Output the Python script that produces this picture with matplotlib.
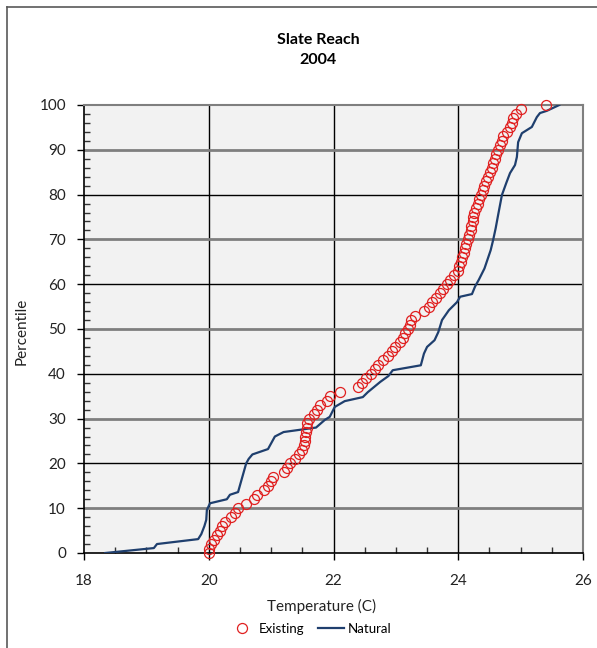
import matplotlib
matplotlib.use("Agg")
import matplotlib.pyplot as plt
from matplotlib.lines import Line2D
from matplotlib.ticker import MultipleLocator

plt.rcParams['font.family'] = ['Lato', 'DejaVu Sans']

# Existing conditions: temperature (C) at each percentile 0..100
existing_pct = list(range(0, 101))
existing_temp = [
    20.00, 20.01, 20.03, 20.08, 20.13, 20.18, 20.22, 20.26, 20.35, 20.42,
    20.47, 20.60, 20.73, 20.78, 20.88, 20.95, 20.99, 21.03, 21.21, 21.25,
    21.30, 21.38, 21.45, 21.50, 21.52, 21.54, 21.55, 21.56, 21.57, 21.58,
    21.60, 21.68, 21.74, 21.79, 21.90, 21.95, 22.10, 22.39, 22.45, 22.52,
    22.60, 22.66, 22.71, 22.80, 22.88, 22.93, 22.99, 23.06, 23.11, 23.15,
    23.19, 23.22, 23.25, 23.30, 23.45, 23.53, 23.58, 23.64, 23.70, 23.75,
    23.82, 23.87, 23.93, 23.99, 24.02, 24.04, 24.06, 24.09, 24.11, 24.13,
    24.15, 24.18, 24.20, 24.21, 24.23, 24.24, 24.25, 24.28, 24.32, 24.34,
    24.37, 24.39, 24.42, 24.45, 24.48, 24.51, 24.54, 24.56, 24.59, 24.61,
    24.64, 24.67, 24.70, 24.72, 24.78, 24.83, 24.86, 24.88, 24.93, 25.00,
    25.40,
]

# Natural conditions: cumulative distribution curve
natural_temp = [
    18.34, 19.12, 19.17, 19.83, 19.88, 19.93, 19.96, 19.97, 20.02, 20.29,
    20.34, 20.47, 20.60, 20.64, 20.70, 20.95, 21.06, 21.20, 21.46, 21.72,
    21.86, 21.94, 22.02, 22.18, 22.47, 22.55, 22.75, 22.88, 22.95, 23.40,
    23.45, 23.50, 23.62, 23.68, 23.74, 23.85, 23.98, 24.03, 24.22, 24.27,
    24.33, 24.42, 24.52, 24.56, 24.60, 24.64, 24.70, 24.77, 24.83, 24.91,
    24.94, 24.96, 25.02, 25.10, 25.18, 25.26, 25.31, 25.42, 25.62,
]
natural_pct = [
    0.0, 1.1, 2.0, 3.1, 4.2, 6.0, 7.4, 9.6, 11.1, 12.0,
    13.0, 13.6, 20.0, 21.0, 22.0, 23.2, 26.0, 27.0, 27.5, 28.0,
    29.7, 30.4, 32.6, 33.9, 34.8, 35.9, 38.2, 39.5, 40.8, 41.9,
    44.5, 46.0, 47.5, 49.3, 52.0, 54.2, 56.0, 57.2, 57.8, 59.5,
    61.0, 63.5, 67.6, 69.9, 72.5, 75.5, 79.9, 82.6, 84.8, 86.6,
    88.4, 91.7, 93.7, 94.4, 95.1, 97.3, 98.2, 98.7, 100.0,
]

x_ticks = [18, 20, 22, 24, 26]
y_ticks = [0, 10, 20, 30, 40, 50, 60, 70, 80, 90, 100]

W, H = 597, 648
fig = plt.figure(figsize=(W / 100, H / 100), dpi=100)
ax = fig.add_axes([84 / W, 1 - 553 / H, (583 - 84) / W, (553 - 105) / H])
ax.set_facecolor('#F2F2F2')

# Gridlines: vertical black, horizontal alternating black / grey
for x in x_ticks[1:-1]:
    ax.axvline(x, color='black', lw=1.0, zorder=1)
for y in y_ticks[1:-1]:
    if y % 20 == 0:
        ax.axhline(y, color='black', lw=1.0, zorder=1)
    else:
        ax.axhline(y, color='#7F7F7F', lw=2.0, zorder=1)

ax.plot(natural_temp, natural_pct, color='#1F3F6E', lw=1.6,
        label='Natural', zorder=3)
ax.plot(existing_temp, existing_pct, linestyle='none', marker='o',
        markersize=7.2, markerfacecolor='none', markeredgecolor='#E02020',
        markeredgewidth=0.9, label='Existing', zorder=4, clip_on=False)

ax.set_xlim(18, 26)
ax.set_ylim(0, 100)
ax.set_xticks(x_ticks)
ax.set_yticks(y_ticks)
ax.xaxis.set_minor_locator(MultipleLocator(0.5))
ax.yaxis.set_minor_locator(MultipleLocator(2))
ax.tick_params(which='major', direction='out', length=5, width=1,
               labelsize=11, color='black', labelcolor='#222222')
ax.tick_params(which='minor', direction='in', length=4, width=1,
               color='#333333')
ax.tick_params(axis='x', which='major', pad=10)
ax.tick_params(axis='y', which='major', pad=8)

for side in ('left', 'bottom'):
    ax.spines[side].set_color('black')
    ax.spines[side].set_linewidth(1.2)
for side in ('right', 'top'):
    ax.spines[side].set_color('#7F7F7F')
    ax.spines[side].set_linewidth(1.5)

# Axis titles
fig.text(322 / W, 1 - 606 / H, 'Temperature (C)', ha='center', va='center',
         fontsize=11, color='#222222')
fig.text(22 / W, 1 - 331 / H, 'Percentile', ha='center', va='center',
         rotation=90, fontsize=11, color='#222222')

# Chart title
fig.text(318 / W, 1 - 40 / H, 'Slate Reach', ha='center', va='center',
         fontsize=11.5, fontweight='bold')
fig.text(318 / W, 1 - 60 / H, '2004', ha='center', va='center',
         fontsize=11.5, fontweight='bold')

handles = [
    Line2D([], [], linestyle='none', marker='o', markersize=7.2,
           markerfacecolor='none', markeredgecolor='#E02020',
           markeredgewidth=0.9),
    Line2D([], [], color='#1F3F6E', lw=1.6),
]
fig.legend(handles, ['Existing', 'Natural'], loc='center',
           bbox_to_anchor=(310 / W, 1 - 629 / H), ncol=2, frameon=False,
           fontsize=9.5, handlelength=2.0, handletextpad=0.3,
           columnspacing=1.0)

# Chart-area border
fig.add_artist(Line2D([7 / W, 7 / W], [0, 1 - 7 / H], color='#595959',
                      lw=1.2, transform=fig.transFigure))
fig.add_artist(Line2D([7 / W, 1], [1 - 7 / H, 1 - 7 / H], color='#595959',
                      lw=1.2, transform=fig.transFigure))

fig.savefig('out.png', dpi=100, facecolor='white')
